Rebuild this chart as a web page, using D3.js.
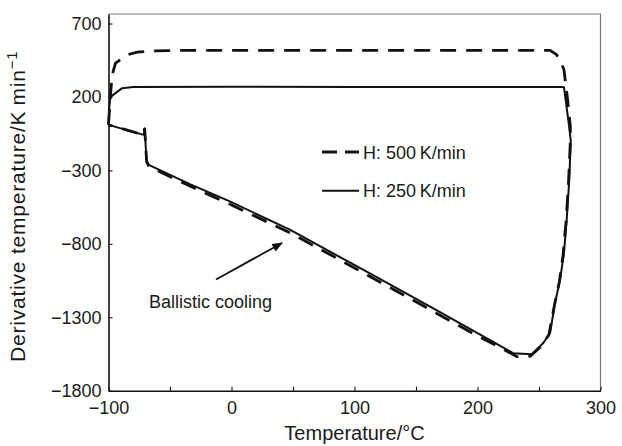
<!DOCTYPE html>
<html>
<head>
<meta charset="utf-8">
<script src="https://cdn.jsdelivr.net/npm/d3@7"></script>
<style>
  body { margin: 0; background: #fff; }
  text { font-family: 'Liberation Sans', Arial, Helvetica, sans-serif; fill: #1a1a1a; }
</style>
</head>
<body>
<div id="root"></div>
<script>
const width = 622,
      height = 446

// H: 250 K/min (solid) - heating along the top, cooling back along the bottom
const temp250 = [-100, -99.5, -98.4, -88.9, -80, 0, 100, 200, 268, 270.3, 273.8, 275.8, 274.6, 272.5,
  270.3, 267.1, 263, 259, 253.5, 244.1, 229.2, 210.2, 161.5, 107.3, 47.8, -0.9, -33.4, -67.3, -69.1,
  -70.6, -71.3, -100]
const rate250 = [10, 120, 201, 260, 268, 269, 268, 268, 268, 267, 44, -92, -365, -637,
  -862, -1046, -1203, -1407, -1475, -1552, -1545, -1455, -1228, -978, -705, -513, -395, -262, -230,
  -13, -58, 10]

// H: 500 K/min (dashed)
const temp500 = [-100, -98.5, -97, -94.3, -84.8, -76.7, -63.2, -40, 0, 100, 200, 259, 264, 267.1, 270.3,
  273, 275.5, 275.5, 274, 272, 269.5, 266.5, 262.5, 258, 252, 243, 232, 215, 200, 150, 100, 50, 0,
  -33, -67, -69, -70.6, -71.3, -100]
const rate500 = [10, 200, 351, 430, 487, 505, 514, 517, 517, 517, 517, 517, 490, 453, 385,
  200, 0, -100, -380, -650, -880, -1060, -1220, -1420, -1495, -1565, -1568, -1490, -1427, -1195, -964, -735, -535,
  -410, -275, -240, -13, -58, 10]

const xTicks = [-100, -50, 0, 50, 100, 150, 200, 250, 300]
const yTicks = [-1800, -1300, -800, -300, 200, 700]
const legendLabels = ['H: 500\u2009K/min', 'H: 250\u2009K/min']

const pLeft = 108.5, pRight = 600.5, pTop = 14, pBottom = 390.7

const svg = d3.select('#root')
  .append('svg')
  .attr('width', width)
  .attr('height', height)

const x = d3.scaleLinear().domain([-100, 300]).range([pLeft, pRight])
const y = d3.scaleLinear().domain([-1800, 765]).range([pBottom, pTop])

// frame top and right
svg.append('path')
  .attr('d', `M${pLeft},${pTop}H${pRight}V${pBottom}`)
  .attr('fill', 'none')
  .attr('stroke', '#7a7a7a')
  .attr('stroke-width', 1.2)

const fmt = d => d % 100 === 0 ? d3.format('')(d) : ''

const xAxis = svg.append('g')
  .attr('transform', `translate(0,${pBottom})`)
  .call(d3.axisBottom(x).tickValues(xTicks).tickFormat(fmt).tickSize(-4).tickSizeOuter(0).tickPadding(11))

const yAxis = svg.append('g')
  .attr('transform', `translate(${pLeft},0)`)
  .call(d3.axisLeft(y).tickValues(yTicks).tickFormat(d3.format('')).tickSize(-4).tickSizeOuter(0).tickPadding(7))

for (const ax of [xAxis, yAxis]) {
  ax.select('.domain').attr('stroke', '#111').attr('stroke-width', 1.6)
  ax.selectAll('.tick line').attr('stroke', '#111').attr('stroke-width', 1.1)
  ax.selectAll('.tick text').attr('font-size', 18).attr('fill', '#1a1a1a')
    .style('font-family', "'Liberation Sans', Arial, sans-serif")
}

const line = d3.line().x(d => x(d[0])).y(d => y(d[1]))

svg.append('path')
  .datum(d3.zip(temp500, rate500))
  .attr('d', line)
  .attr('fill', 'none')
  .attr('stroke', '#111')
  .attr('stroke-width', 2.8)
  .attr('stroke-dasharray', '16,10')

svg.append('path')
  .datum(d3.zip(temp250, rate250))
  .attr('d', line)
  .attr('fill', 'none')
  .attr('stroke', '#111')
  .attr('stroke-width', 2)
  .attr('stroke-linejoin', 'round')

// legend
const legend = svg.append('g')
legendLabels.forEach((lab, i) => {
  const ly = 152 + i * 38.7
  legend.append('line')
    .attr('x1', 322).attr('x2', 359)
    .attr('y1', ly).attr('y2', ly)
    .attr('stroke', '#111')
    .attr('stroke-width', i === 0 ? 2.8 : 2)
    .attr('stroke-dasharray', i === 0 ? '15,8' : null)
  legend.append('text')
    .attr('x', 363).attr('y', ly + 6.5)
    .attr('font-size', 18)
    .text(lab)
})

// annotation
svg.append('defs').append('marker')
  .attr('id', 'head')
  .attr('viewBox', '0 0 10 10')
  .attr('refX', 9).attr('refY', 5)
  .attr('markerWidth', 6).attr('markerHeight', 6)
  .attr('orient', 'auto')
  .append('path')
  .attr('d', 'M0,1L10,5L0,9Z')
  .attr('fill', '#111')

svg.append('line')
  .attr('x1', 216).attr('y1', 279.5)
  .attr('x2', 282).attr('y2', 243)
  .attr('stroke', '#111')
  .attr('stroke-width', 1.8)
  .attr('marker-end', 'url(#head)')

svg.append('text')
  .attr('x', 149).attr('y', 308)
  .attr('font-size', 18)
  .text('Ballistic cooling')

// axis titles
svg.append('text')
  .attr('x', (pLeft + pRight) / 2)
  .attr('y', 440)
  .attr('text-anchor', 'middle')
  .attr('font-size', 20)
  .text('Temperature/°C')

const yt = svg.append('text')
  .attr('transform', `translate(25,${(pTop + pBottom) / 2 + 4}) rotate(-90)`)
  .attr('text-anchor', 'middle')
  .attr('font-size', 21)
  .attr('letter-spacing', 0.8)
yt.append('tspan').text('Derivative temperature/K\u2009min')
yt.append('tspan').attr('dy', -8).attr('font-size', 15).text('\u22121')
</script>
</body>
</html>
